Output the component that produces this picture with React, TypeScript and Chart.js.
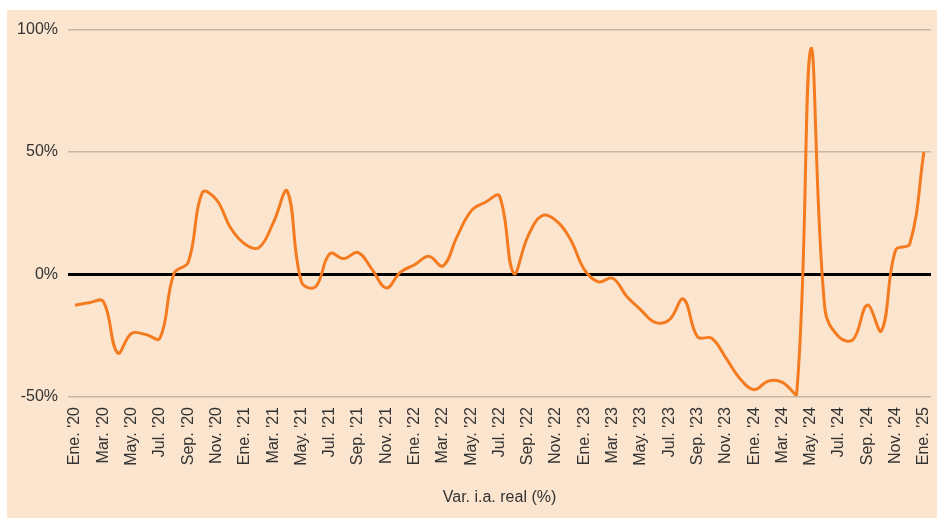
import React, { useEffect, useRef } from "react";
import { Chart, registerables } from "chart.js";

Chart.register(...registerables);

const categories: string[] = [
  "Ene. '20", "Feb. '20", "Mar. '20", "Abr. '20", "May. '20", "Jun. '20", "Jul. '20", "Ago. '20", "Sep. '20", "Oct. '20", "Nov. '20", "Dic. '20",
  "Ene. '21", "Feb. '21", "Mar. '21", "Abr. '21", "May. '21", "Jun. '21", "Jul. '21", "Ago. '21", "Sep. '21", "Oct. '21", "Nov. '21", "Dic. '21",
  "Ene. '22", "Feb. '22", "Mar. '22", "Abr. '22", "May. '22", "Jun. '22", "Jul. '22", "Ago. '22", "Sep. '22", "Oct. '22", "Nov. '22", "Dic. '22",
  "Ene. '23", "Feb. '23", "Mar. '23", "Abr. '23", "May. '23", "Jun. '23", "Jul. '23", "Ago. '23", "Sep. '23", "Oct. '23", "Nov. '23", "Dic. '23",
  "Ene. '24", "Feb. '24", "Mar. '24", "Abr. '24", "May. '24", "Jun. '24", "Jul. '24", "Ago. '24", "Sep. '24", "Oct. '24", "Nov. '24", "Dic. '24",
  "Ene. '25",
];

const values2020 = [-12.5, -11.5, -11, -32, -24, -24.5, -26, 0.5, 5, 33.5, 30.5, 19];
const values2021 = [12.5, 11, 21, 34, -3, -5, 8.5, 6.5, 9, 2, -5.5, 1];
const values2022 = [4, 7.5, 3.5, 15.5, 26, 29.5, 32, 0.5, 15.5, 24, 22, 14.5];
const values2023 = [2, -3, -1.5, -9, -14.5, -19.5, -18.5, -10, -25.5, -26, -34, -42.5];
const values2024 = [-47, -43.5, -44, -49, 92, -14, -25.5, -26.5, -12.5, -23, 10, 12.5];
const values2025 = [50];

const yTicks = [-50, 0, 50, 100];
const axisTitle = "Var. i.a. real (%)";

const FONT = "'Liberation Sans', Arial, Helvetica, sans-serif";

export default function App() {
  const ref = useRef<HTMLCanvasElement | null>(null);

  useEffect(() => {
    if (!ref.current) return;
    const data = [...values2020, ...values2021, ...values2022, ...values2023, ...values2024, ...values2025];
    const chart = new Chart(ref.current, {
      type: "line",
      data: {
        labels: categories,
        datasets: [
          {
            data,
            borderColor: "#F47B20",
            borderWidth: 3,
            pointRadius: 0,
            tension: 0.4,
            fill: false,
          },
        ],
      },
      options: {
        animation: false,
        responsive: false,
        devicePixelRatio: 1,
        layout: { padding: { top: 19, left: 0, right: 6, bottom: 0 } },
        plugins: { legend: { display: false }, tooltip: { enabled: false } },
        scales: {
          x: {
            offset: true,
            border: { display: false },
            grid: { display: false, drawTicks: false },
            ticks: {
              autoSkip: false,
              maxRotation: 90,
              minRotation: 90,
              padding: 10,
              color: "#333",
              font: { family: FONT, size: 16 },
              callback: (_v: any, i: number) => (i % 2 === 0 ? categories[i] : ""),
            },
            title: {
              display: true,
              text: axisTitle,
              color: "#333",
              font: { family: FONT, size: 16 },
              padding: { top: 4, bottom: 11 },
            },
            afterFit: (s: any) => {
              s.height = 121;
              s.paddingLeft = 0;
              s.paddingRight = 0;
            },
          },
          y: {
            min: -50,
            max: 100,
            border: { display: false },
            afterBuildTicks: (s: any) => {
              s.ticks = yTicks.map((v) => ({ value: v }));
            },
            grid: {
              drawTicks: false,
              color: (ctx: any) => (ctx.tick && ctx.tick.value === 0 ? "#000000" : "#c9b7a1"),
              lineWidth: (ctx: any) => (ctx.tick && ctx.tick.value === 0 ? 3 : 1.5),
            },
            ticks: {
              padding: 10,
              color: "#333",
              font: { family: FONT, size: 16 },
              callback: (v: any) => v + "%",
            },
            afterFit: (s: any) => {
              s.width = 61;
            },
          },
        },
      },
    });
    return () => chart.destroy();
  }, []);

  return (
    <div
      style={{
        position: "absolute",
        left: 7,
        top: 10,
        width: 930,
        height: 508,
        background: "#FBE5CF",
      }}
    >
      <canvas ref={ref} width={930} height={508} style={{ display: "block" }} />
    </div>
  );
}
